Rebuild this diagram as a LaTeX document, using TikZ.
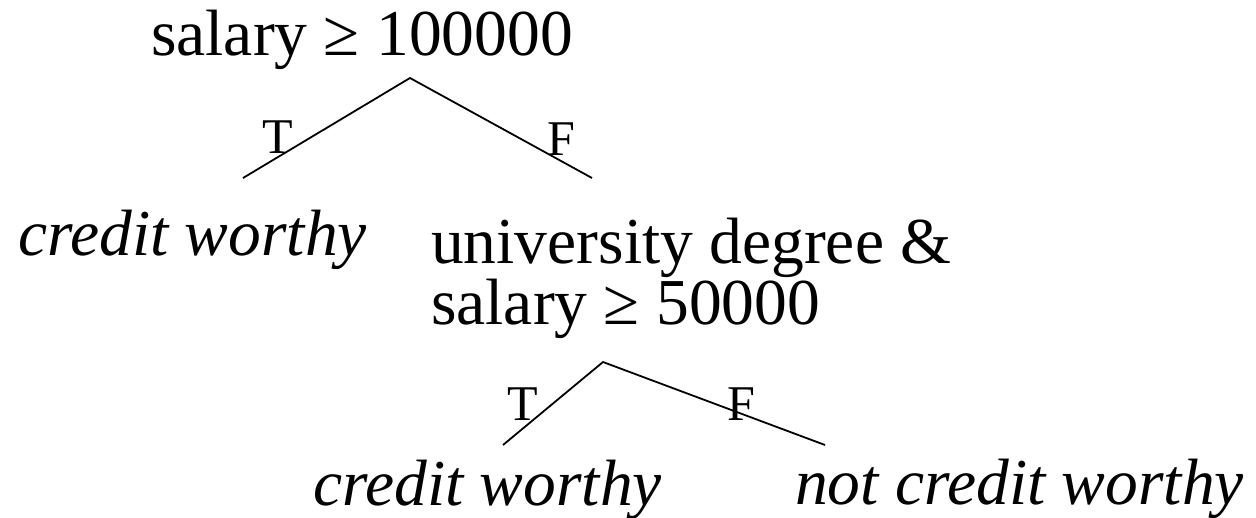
\documentclass[tikz,border=0pt]{standalone}
\usepackage{fontspec}
\setmainfont{Liberation Serif}
\begin{document}
\begin{tikzpicture}[x=1pt,y=-1pt,
  txt/.style={inner sep=0pt,anchor=base west,font=\fontsize{65.5}{65.5}\selectfont},
  itxt/.style={txt,font=\fontsize{65.5}{65.5}\selectfont\itshape},
  lbl/.style={inner sep=0pt,anchor=base west,font=\fontsize{50}{50}\selectfont},
  edge/.style={draw=black,line width=1.8pt}]
\useasboundingbox (0,0) rectangle (1256,517);
% texts
\node[txt]  (root) at (151,55)  {salary ≥ 100000};
\node[itxt] (cw1)  at (18,255)  {credit worthy};
\node[txt]  (uni)  at (431,263) {university degree \&};
\node[txt]  (sal2) at (431,324) {salary ≥ 50000};
\node[itxt] (cw2)  at (313,505) {credit worthy};
\node[itxt] (ncw)  at (795,504) {not credit worthy};
% edge coordinates
\coordinate (a1) at (410,78);
\coordinate (l1) at (243,178);
\coordinate (r1) at (592,178);
\coordinate (a2) at (603,362);
\coordinate (l2) at (503,445);
\coordinate (r2) at (825,445);
\draw[edge] (l1) -- (a1) -- (r1);
\draw[edge] (l2) -- (a2) -- (r2);
% labels
\node[lbl] (t1) at (262,153) {T};
\node[lbl] (f1) at (547,155) {F};
\node[lbl] (t2) at (507,420) {T};
\node[lbl] (f2) at (727,420) {F};
\end{tikzpicture}
\end{document}
